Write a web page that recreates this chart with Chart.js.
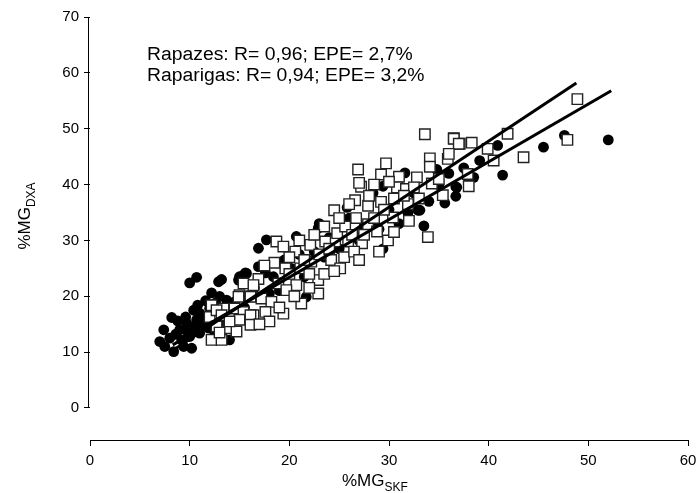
<!DOCTYPE html>
<html>
<head>
<meta charset="utf-8">
<script src="https://cdn.jsdelivr.net/npm/chart.js@4.4.1/dist/chart.umd.min.js"></script>
<style>
  html, body { margin: 0; padding: 0; background: #fff; }
  #wrap { width: 699px; height: 493px; }
</style>
</head>
<body>
<div id="wrap"><canvas id="chart" width="699" height="493"></canvas></div>
<script>
// rapazes (boys) - filled circles, [%MG SKF, %MG DXA]
const boys = [
  [52.0,48.0],[47.6,48.8],[45.5,46.7],[40.9,47.0],[39.1,44.3],[41.4,41.7],[38.5,41.3],[36.7,39.6],[36.7,37.9],
  [33.5,32.6],[31.6,42.1],[29.4,39.7],[28.4,38.5],[25.8,35.9],[34.8,42.7],[36.8,39.5],[35.6,36.7],[33.1,35.4],
  [31.9,34.9],[29.4,28.5],[32.9,35.4],[30.5,37.5],[32.5,38.5],[34.0,37.0],[35.0,40.0],[37.5,43.0],[38.0,40.5],
  [36.0,42.0],[30.0,35.5],[31.0,33.0],[29.0,32.0],[27.0,30.0],
  [17.7,30.1],[16.9,28.6],[20.7,30.7],[22.9,32.2],[16.9,25.3],[15.6,24.2],[17.6,24.2],[18.4,23.5],[21.7,19.9],
  [19.5,26.5],[20.2,25.0],[21.0,27.5],[22.5,28.0],[23.5,27.0],[24.0,30.5],[25.0,28.5],[26.5,31.0],[27.5,32.5],
  [28.5,33.5],[26.0,34.0],[23.0,33.0],[21.5,23.5],[19.0,21.0],[18.0,20.5],[16.5,21.5],[14.5,19.0],[15.5,18.0],
  [12.9,22.6],[13.2,23.0],[10.0,22.4],[10.7,23.4],[14.9,22.9],[15.4,23.8],
  [7.4,14.0],[7.0,11.9],[7.5,11.0],[8.4,10.1],[9.4,11.0],[10.2,10.7],[10.4,17.5],[11.0,17.0],[14.0,12.2],
  [9.0,14.0],[9.7,15.2],[10.7,15.8],[11.5,16.3],[11.9,14.3],[10.0,12.8],[11.0,13.4],[13.7,19.3],[15.0,23.5],
  [15.7,24.1],[8.0,12.5],[8.6,13.2],[9.2,12.2],[9.8,13.6],[10.5,14.6],[11.3,15.1],[12.0,17.8],[12.6,18.8],
  [13.0,20.0],[12.2,20.6],[11.6,19.2],[10.8,18.4],[9.6,16.3],[8.8,15.6],[8.2,16.2],[12.5,13.0],[13.5,15.5]
];

// raparigas (girls) - open squares
const girls = [
  [48.9,55.3],[47.9,48.0],[43.5,44.9],[40.5,44.3],[41.9,49.1],[39.9,46.4],[38.3,47.5],[37.1,47.3],[36.5,48.3],
  [37.9,41.9],[38.0,39.7],[33.6,49.0],[36.5,48.2],[37.0,47.3],[34.1,44.7],[35.9,44.6],[34.1,43.2],[29.7,43.8],
  [26.9,42.7],[29.2,41.8],[31.0,41.4],[32.8,41.3],[27.2,39.6],[30.8,39.5],[31.7,39.2],[32.5,39.5],[34.3,40.2],
  [35.4,38.1],[24.5,35.4],[26.6,37.2],[29.2,36.9],[27.9,36.2],[31.9,36.5],[30.4,34.1],[26.7,34.0],[27.9,32.9],
  [28.8,31.6],[33.9,30.6],[29.9,30.0],[25.9,29.8],[24.6,29.8],[23.6,29.8],[24.8,31.3],[25.6,32.5],[26.3,31.0],
  [27.3,29.5],[18.7,29.8],[19.4,28.9],[20.6,28.0],[22.1,29.2],[16.9,23.1],[19.6,25.0],[21.1,25.0],[22.2,26.2],
  [24.2,26.5],[25.1,25.0],[22.9,22.9],[20.7,22.0],[18.9,22.3],[16.2,20.0],[15.0,20.2],[17.2,19.6],[19.7,21.1],
  [18.2,19.0],[21.2,18.7],[22.9,20.5],[12.2,18.4],[13.4,17.8],[14.5,17.8],[15.4,17.2],[16.4,16.6],[17.6,17.2],
  [19.4,16.9],[12.0,16.3],[12.7,17.5],[13.2,16.6],[12.7,14.6],[13.9,14.3],[12.2,12.2],[13.2,12.2],[14.7,13.7],
  [14.9,19.9],[16.1,19.9],[16.1,16.6],[15.0,15.8],[16.1,14.9],[15.4,22.3],[16.4,22.0],
  [20.0,24.0],[21.5,26.5],[23.0,27.5],[24.0,28.5],[25.5,27.0],[26.5,28.0],[27.5,31.0],[28.5,34.0],[29.5,35.5],
  [30.5,37.5],[31.5,38.0],[28.0,38.0],[26.0,36.5],[25.0,34.0],[23.5,32.5],[22.5,31.0],[21.0,30.0],[20.0,27.0],
  [18.5,26.0],[17.5,25.5],[19.0,18.0],[20.5,20.0],[22.0,21.5],[23.5,24.0],[18.0,15.5],[17.0,15.0],[14.0,15.5],
  [13.0,13.5],[24.5,24.5],[22.0,24.0],[27.0,26.5],[29.0,28.0],[30.5,31.5],[32.0,33.5],[33.0,37.5],[35.0,41.0],
  [36.0,45.5],[30.0,40.5],[28.5,40.0],[27.0,40.3]
];

// regression lines, start and end points
const lineGirls = [[8.3,10.3],[48.8,58.2]];
const lineBoys = [[8.3,11.3],[52.3,56.8]];

const xTicks = [0,10,20,30,40,50,60];
const yTicks = [0,10,20,30,40,50,60,70];

const notes = ['Rapazes: R= 0,96; EPE= 2,7%', 'Raparigas: R= 0,94; EPE= 3,2%'];

const toPts = arr => arr.map(p => ({x: p[0], y: p[1]}));
const FONT = 'Arial, "Liberation Sans", sans-serif';

// axis line for y (ends at 0), titles with subscripts, notes
const extras = {
  id: 'extras',
  afterDraw(chart) {
    const ctx = chart.ctx;
    const ys = chart.scales.y;
    const left = chart.chartArea.left;
    ctx.save();
    ctx.strokeStyle = '#000';
    ctx.lineWidth = 1;
    ctx.beginPath();
    ctx.moveTo(left - 1.5, ys.getPixelForValue(0));
    ctx.lineTo(left - 1.5, ys.getPixelForValue(70));
    ctx.stroke();

    ctx.fillStyle = '#000';
    ctx.textBaseline = 'alphabetic';
    ctx.textAlign = 'left';

    // notes, a bit wider like the original
    ctx.save();
    ctx.translate(147, 0);
    ctx.scale(1.075, 1);
    ctx.font = '18px ' + FONT;
    ctx.fillText(notes[0], 0, 60);
    ctx.fillText(notes[1], 0, 81);
    ctx.restore();

    // x title
    const main = '%MG', subX = 'SKF', subY = 'DXA';
    ctx.font = '17px ' + FONT;
    const w1 = ctx.measureText(main).width;
    ctx.font = '12px ' + FONT;
    const w3 = ctx.measureText(subY).width;
    let x0 = 342;
    ctx.font = '17px ' + FONT;
    ctx.fillText(main, x0, 486);
    ctx.font = '12px ' + FONT;
    ctx.fillText(subX, x0 + w1, 491);

    // y title
    ctx.translate(30, 216);
    ctx.rotate(-Math.PI / 2);
    x0 = -(w1 + w3) / 2;
    ctx.font = '17px ' + FONT;
    ctx.fillText(main, x0, 0);
    ctx.font = '12px ' + FONT;
    ctx.fillText(subY, x0 + w1, 5);
    ctx.restore();
  }
};

new Chart(document.getElementById('chart').getContext('2d'), {
  type: 'scatter',
  data: {
    datasets: [
      {
        label: 'Raparigas (reta)', type: 'line', data: toPts(lineGirls),
        borderColor: '#000', borderWidth: 3, pointRadius: 0, fill: false, order: 0
      },
      {
        label: 'Rapazes (reta)', type: 'line', data: toPts(lineBoys),
        borderColor: '#000', borderWidth: 3, pointRadius: 0, fill: false, order: 0
      },
      {
        label: 'Raparigas', data: toPts(girls), pointStyle: 'rect', pointRadius: 7.4,
        backgroundColor: '#fff', borderColor: '#222', borderWidth: 1.4, order: 1
      },
      {
        label: 'Rapazes', data: toPts(boys), pointStyle: 'circle', pointRadius: 5.4,
        backgroundColor: '#000', borderColor: '#000', borderWidth: 0, order: 2
      }
    ]
  },
  options: {
    responsive: false,
    animation: false,
    layout: { padding: { top: 17, right: 11, left: 0, bottom: 0 } },
    plugins: { legend: { display: false }, tooltip: { enabled: false } },
    scales: {
      x: {
        type: 'linear', min: 0, max: 60,
        afterBuildTicks: s => { s.ticks = xTicks.map(v => ({value: v})); },
        afterFit: s => { s.height = 53; s.paddingRight = 0; s.paddingLeft = 0; },
        border: { display: true, color: '#000', width: 1 },
        grid: { drawOnChartArea: false, drawTicks: true, tickLength: 6, color: '#000' },
        ticks: { color: '#000', padding: 6, maxRotation: 0, font: { family: 'Arial', size: 15 } }
      },
      y: {
        type: 'linear', min: -5.73, max: 70,
        afterBuildTicks: s => { s.ticks = yTicks.map(v => ({value: v})); },
        afterFit: s => { s.width = 90; s.paddingTop = 0; s.paddingBottom = 0; },
        border: { display: false },
        grid: { drawOnChartArea: false, drawTicks: true, tickLength: 6, color: '#000', offset: false },
        ticks: { color: '#000', padding: 5, font: { family: 'Arial', size: 15 } }
      }
    }
  },
  plugins: [extras]
});
</script>
</body>
</html>
